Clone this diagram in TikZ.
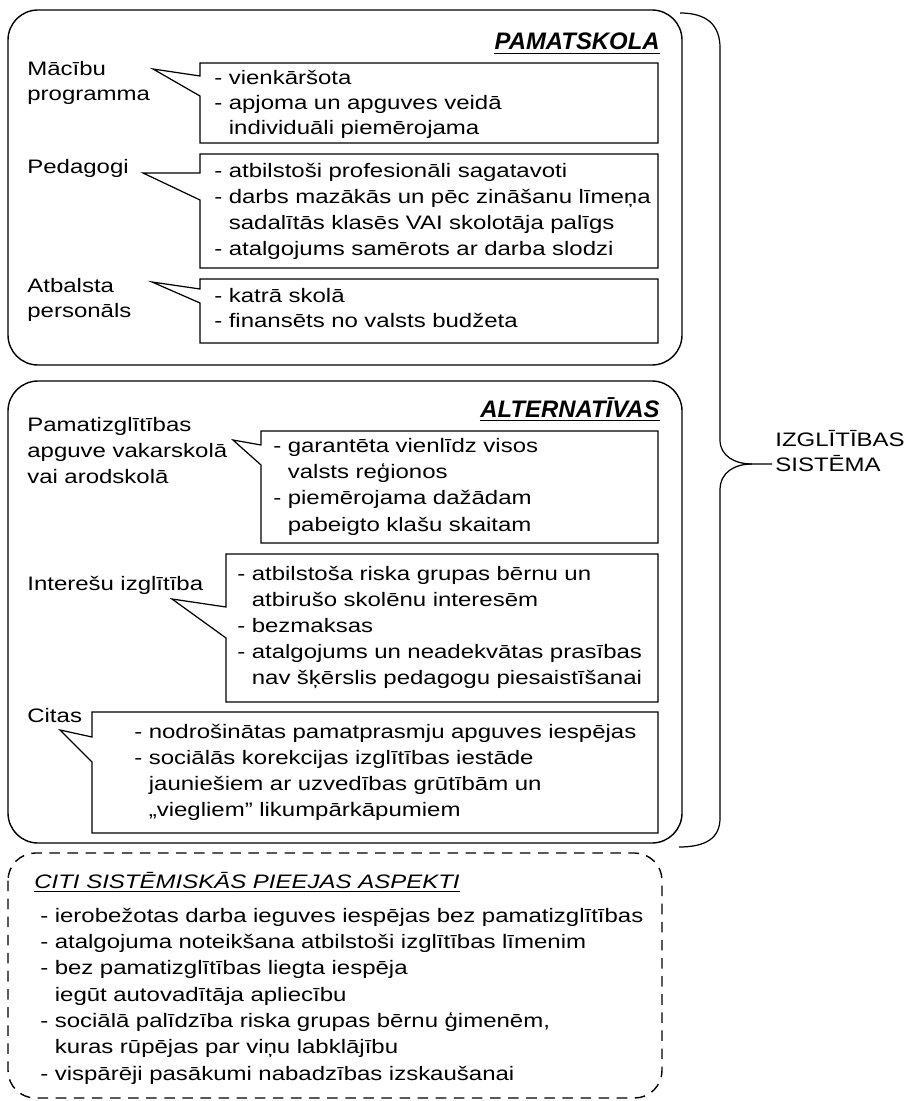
\documentclass[tikz,border=0pt]{standalone}
\usepackage{fontspec}
\setmainfont{Liberation Sans}[FakeStretch=1.23]
\newfontfamily\headfont{Liberation Sans}
\usetikzlibrary{positioning}

\begin{document}
\begin{tikzpicture}[x=0.02cm, y=-0.02cm,
  panel/.style={draw, line width=0.8pt, rounded corners=0.6cm},
  note/.style={draw, line width=0.7pt},
  curly/.style={draw, line width=0.7pt},
  txt/.style={anchor=base west, align=left, inner sep=0pt, text width=13cm, font=\fontsize{11.1pt}{#1}\selectfont},
  txt/.default=15pt,
  heading/.style={anchor=base east, inner sep=0pt, font=\headfont\bfseries\itshape\fontsize{13.6pt}{16pt}\selectfont},
  subhead/.style={anchor=base west, inner sep=0pt, font=\itshape\fontsize{11.1pt}{15pt}\selectfont}]
  \useasboundingbox (0,0) rectangle (905,1101);

  % the two framed parts and the dashed one
  \draw[panel] (8,10) rectangle (682,365);
  \draw[panel] (8,381) rectangle (682,843);
  \draw[panel, dash pattern=on 6pt off 4.3pt, rounded corners=0.55cm] (8,853) rectangle (662,1098);

  % PAMATSKOLA
  \node[heading] (pamTitle) at (660,50) {PAMATSKOLA};
  \draw[line width=1pt] ([yshift=-2pt]pamTitle.base west) -- ([yshift=-2pt]pamTitle.base east);

  \node[txt=14.2pt] (progLbl) at (27,76) {Mācību\\programma};
  \draw[note] (200,63) -- (658,63) -- (658,143) -- (200,143) -- (200,96) -- (153,69) -- (200,76) -- cycle;
  \node[txt=14.2pt] (progText) at (214,84.3) {- vienkāršota\\- apjoma un apguves veidā\\\hphantom{- }individuāli piemērojama};

  \node[txt] (pedLbl) at (27,173.3) {Pedagogi};
  \draw[note] (200,154) -- (658,154) -- (658,268) -- (200,268) -- (200,200) -- (143,173) -- (200,173) -- cycle;
  \node[txt=14.9pt] (pedText) at (214,177.3) {- atbilstoši profesionāli sagatavoti\\- darbs mazākās un pēc zināšanu līmeņa\\\hphantom{- }sadalītās klasēs VAI skolotāja palīgs\\- atalgojums samērots ar darba slodzi};

  \node[txt=14.2pt] (atbLbl) at (27,293) {Atbalsta\\personāls};
  \draw[note] (200,279) -- (658,279) -- (658,343) -- (200,343) -- (200,303) -- (152,282) -- (200,289) -- cycle;
  \node[txt=14.7pt] (atbText) at (214,302) {- katrā skolā\\- finansēts no valsts budžeta};

  % ALTERNATĪVAS
  \node[heading] (altTitle) at (660,417) {ALTERNATĪVAS};
  \draw[line width=1pt] ([yshift=-2pt]altTitle.base west) -- ([yshift=-2pt]altTitle.base east);

  \node[txt=14.7pt] (pamLbl) at (27,431.7) {Pamatizglītības\\apguve vakarskolā\\vai arodskolā};
  \draw[note] (261,431) -- (658,431) -- (658,543) -- (261,543) -- (261,465) -- (233,440) -- (261,445) -- cycle;
  \node[txt] (pamText) at (273,452) {- garantēta vienlīdz visos\\\hphantom{- }valsts reģionos\\- piemērojama dažādam\\\hphantom{- }pabeigto klašu skaitam};

  \node[txt] (intLbl) at (27,590) {Interešu izglītība};
  \draw[note] (226,554) -- (658,554) -- (658,702) -- (226,702) -- (226,638) -- (172,599) -- (226,607) -- cycle;
  \node[txt=14.9pt] (intText) at (237,580) {- atbilstoša riska grupas bērnu un\\\hphantom{- }atbirušo skolēnu interesēm\\- bezmaksas\\- atalgojums un neadekvātas prasības\\\hphantom{- }nav šķērslis pedagogu piesaistīšanai};

  \node[txt] (citLbl) at (27,722) {Citas};
  \draw[note] (92,712) -- (658,712) -- (658,833) -- (92,833) -- (92,762) -- (60,730) -- (92,737) -- cycle;
  \node[txt=14.9pt] (citText) at (134,738) {- nodrošinātas pamatprasmju apguves iespējas\\- sociālās korekcijas izglītības iestāde\\\hphantom{- }jauniešiem ar uzvedības grūtībām un\\\hphantom{- }„viegliem” likumpārkāpumiem};

  % brace to the whole system
  \coordinate (braceTop) at (680,13);
  \coordinate (braceTip) at (772,464);
  \coordinate (braceEnd) at (679,847);
  \draw[curly] (braceTop) .. controls (708,13) and (720,26) .. (720,48) -- (720,440)
    .. controls (720,456) and (735,464) .. (752,464) -- (braceTip);
  \draw[curly] (752,464) .. controls (735,464) and (720,472) .. (720,490) -- (720,818)
    .. controls (720,838) and (706,847) .. (braceEnd);
  \node[txt=14.2pt] (sysLbl) at (775,446.7) {IZGLĪTĪBAS\\SISTĒMA};

  % other aspects
  \node[subhead] (aspTitle) at (34,888) {CITI SISTĒMISKĀS PIEEJAS ASPEKTI};
  \draw[line width=0.6pt] ([yshift=-2.2pt]aspTitle.base west) -- ([yshift=-2.2pt]aspTitle.base east);
  \node[txt] (aspText) at (40,922) {- ierobežotas darba ieguves iespējas bez pamatizglītības\\- atalgojuma noteikšana atbilstoši izglītības līmenim\\- bez pamatizglītības liegta iespēja\\\hphantom{- }iegūt autovadītāja apliecību\\- sociālā palīdzība riska grupas bērnu ģimenēm,\\\hphantom{- }kuras rūpējas par viņu labklājību\\- vispārēji pasākumi nabadzības izskaušanai};
\end{tikzpicture}
\end{document}
